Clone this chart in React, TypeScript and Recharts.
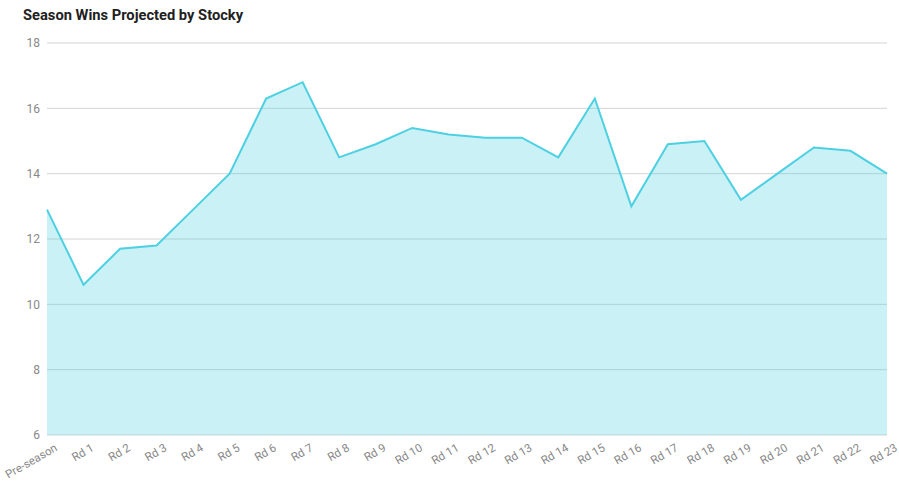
import { Area, AreaChart, CartesianGrid, XAxis, YAxis } from "recharts";

const rounds = [
  "Pre-season", "Rd 1", "Rd 2", "Rd 3", "Rd 4", "Rd 5", "Rd 6", "Rd 7", "Rd 8", "Rd 9",
  "Rd 10", "Rd 11", "Rd 12", "Rd 13", "Rd 14", "Rd 15", "Rd 16", "Rd 17", "Rd 18",
  "Rd 19", "Rd 20", "Rd 21", "Rd 22", "Rd 23",
];

const projectedWins = [
  12.9, 10.6, 11.7, 11.8, 12.9, 14.0, 16.3, 16.8, 14.5, 14.9, 15.4, 15.2, 15.1, 15.1,
  14.5, 16.3, 13.0, 14.9, 15.0, 13.2, 14.0, 14.8, 14.7, 14.0,
];

const yTicks = [6, 8, 10, 12, 14, 16, 18];

const data = rounds.map((round, i) => ({ round, wins: projectedWins[i] }));

const FONT = "Roboto, 'Noto Sans', sans-serif";

function RoundTick({ x, y, payload }: { x?: number; y?: number; payload?: { value: string } }) {
  return (
    <g transform={`translate(${(x ?? 0) + 7},${(y ?? 0) + 6})`}>
      <text
        x={0}
        y={0}
        dy="0.71em"
        textAnchor="end"
        transform="rotate(-30)"
        fontSize={11.5}
        fill="#888"
        fontFamily={FONT}
      >
        {payload?.value}
      </text>
    </g>
  );
}

export default function App() {
  return (
    <div style={{ position: "relative", width: 899, height: 481, fontFamily: FONT, background: "#fff" }}>
      <style>{`body { margin: 0; }`}</style>
      <div
        style={{
          position: "absolute",
          left: 23,
          top: 6,
          fontSize: 14.7,
          fontWeight: 700,
          color: "#212121",
          whiteSpace: "nowrap",
        }}
      >
        Season Wins Projected by Stocky
      </div>
      <AreaChart
        width={899}
        height={481}
        data={data}
        margin={{ top: 43, right: 12, left: 0, bottom: 0 }}
      >
        <CartesianGrid vertical={false} stroke="#d4d4d4" />
        <XAxis
          dataKey="round"
          axisLine={false}
          tickLine={false}
          tickSize={0}
          height={46}
          interval={0}
          tick={<RoundTick />}
        />
        <YAxis
          width={47}
          domain={[6, 18]}
          ticks={yTicks}
          axisLine={false}
          tickLine={false}
          tickSize={0}
          tickMargin={7}
          tick={{ fontSize: 12, fill: "#888", fontFamily: FONT }}
        />
        <Area
          type="linear"
          dataKey="wins"
          stroke="#4dd0e1"
          strokeWidth={2}
          fill="#4dd0e1"
          fillOpacity={0.3}
          baseValue={6}
          isAnimationActive={false}
          dot={false}
          activeDot={false}
        />
      </AreaChart>
    </div>
  );
}
